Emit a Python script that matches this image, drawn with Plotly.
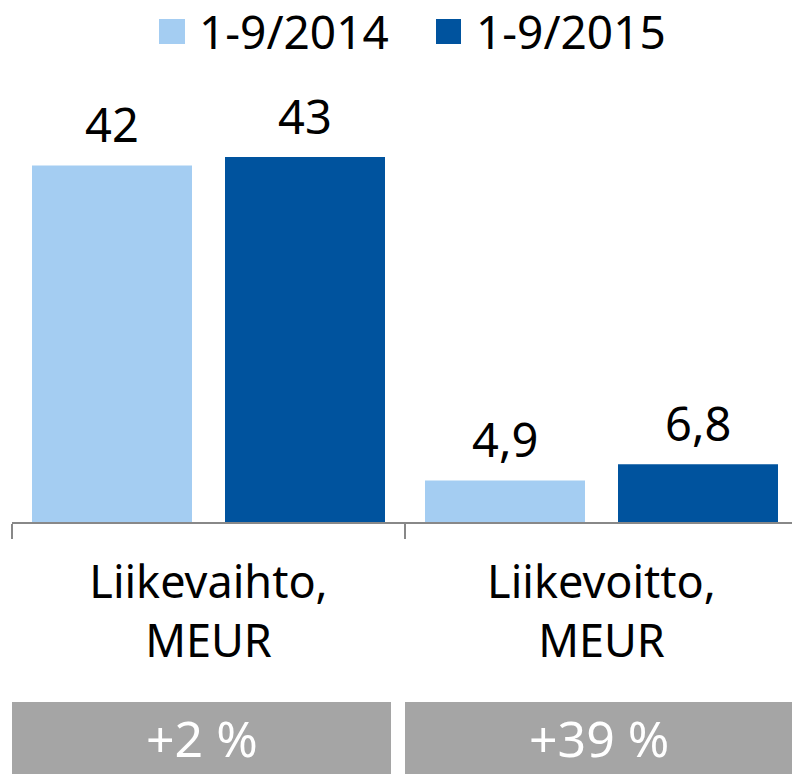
import plotly.graph_objects as go

# ---- data ----
categories = ["Liikevaihto,<br>MEUR", "Liikevoitto,<br>MEUR"]
series_names = ["1-9/2014", "1-9/2015"]
values_2014 = [42, 4.9]
values_2015 = [43, 6.8]
changes = ["+2 %", "+39 %"]

# ---- styling ----
colors = ["#A4CDF2", "#00539E"]
FONT = "Noto Sans"
W, H = 792, 774
ML, MR, MT, MB = 12, 0, 80, 252
PW = W - ML - MR
PH = H - MT - MB
CAT_PX = 393.0
YMAX = PH / 8.49

bar_width = 160 / CAT_PX
offsets = [-176.5 / CAT_PX, 16.5 / CAT_PX]


def px_x(px):
    return (px - ML) / PW


def px_y(py):
    return (H - MB - py) / PH


def fmt(v):
    if v >= 10:
        return f"{v:.0f}"
    return f"{v:.1f}".replace(".", ",")


fig = go.Figure()
annotations = []
for i, (name, vals) in enumerate(zip(series_names, [values_2014, values_2015])):
    fig.add_trace(go.Bar(
        x=categories, y=vals, name=name,
        marker=dict(color=colors[i], line=dict(width=0)),
        width=bar_width, offset=offsets[i],
        showlegend=False, hoverinfo="skip",
    ))
    xs = (offsets[i] + bar_width / 2) * CAT_PX
    for c, v in zip(categories, vals):
        annotations.append(dict(
            x=c, y=v, xref="x", yref="y", text=fmt(v), showarrow=False,
            xanchor="center", yanchor="bottom", xshift=xs, yshift=7,
            font=dict(family=FONT, size=47, color="black"),
        ))

# manual legend
legend_sq = [(159, 185), (436, 461)]
legend_tx = [200, 477]
shapes = []
for i, name in enumerate(series_names):
    x0, x1 = legend_sq[i]
    shapes.append(dict(type="rect", xref="paper", yref="paper",
                       x0=px_x(x0), x1=px_x(x1), y0=px_y(44), y1=px_y(19),
                       fillcolor=colors[i], line=dict(width=0)))
    annotations.append(dict(
        x=px_x(legend_tx[i] - 3), y=px_y(31), xref="paper", yref="paper",
        text=name, showarrow=False, xanchor="left", yanchor="middle",
        font=dict(family=FONT, size=46, color="black"),
    ))

# gray change boxes
boxes = [(12, 391), (405, 792)]
for (x0, x1), ch in zip(boxes, changes):
    shapes.append(dict(type="rect", xref="paper", yref="paper",
                       x0=px_x(x0), x1=px_x(x1), y0=px_y(774), y1=px_y(702),
                       fillcolor="#A5A5A5", line=dict(width=0), layer="above"))
    annotations.append(dict(
        x=px_x((x0 + x1) / 2), y=px_y(738), xref="paper", yref="paper",
        text=ch, showarrow=False, xanchor="center", yanchor="middle",
        font=dict(family="Liberation Sans Narrow, " + FONT, size=50, color="white"),
    ))

fig.update_layout(
    width=W, height=H,
    margin=dict(l=ML, r=MR, t=MT, b=MB, pad=0),
    paper_bgcolor="white", plot_bgcolor="white",
    barmode="overlay",
    showlegend=False,
    shapes=shapes, annotations=annotations,
    font=dict(family=FONT, color="black"),
    xaxis=dict(
        type="category", range=[-0.5, -0.5 + PW / CAT_PX],
        showline=True, linecolor="#888888", linewidth=2,
        ticks="outside", tickson="boundaries", ticklen=15, tickwidth=2,
        tickcolor="#888888", showgrid=False, zeroline=False,
        tickfont=dict(family=FONT, size=45, color="black"),
        ticklabelstandoff=20,
        fixedrange=True,
    ),
    yaxis=dict(range=[0, YMAX], visible=False, showgrid=False, zeroline=False,
               fixedrange=True),
)

fig.write_html("out.html")
